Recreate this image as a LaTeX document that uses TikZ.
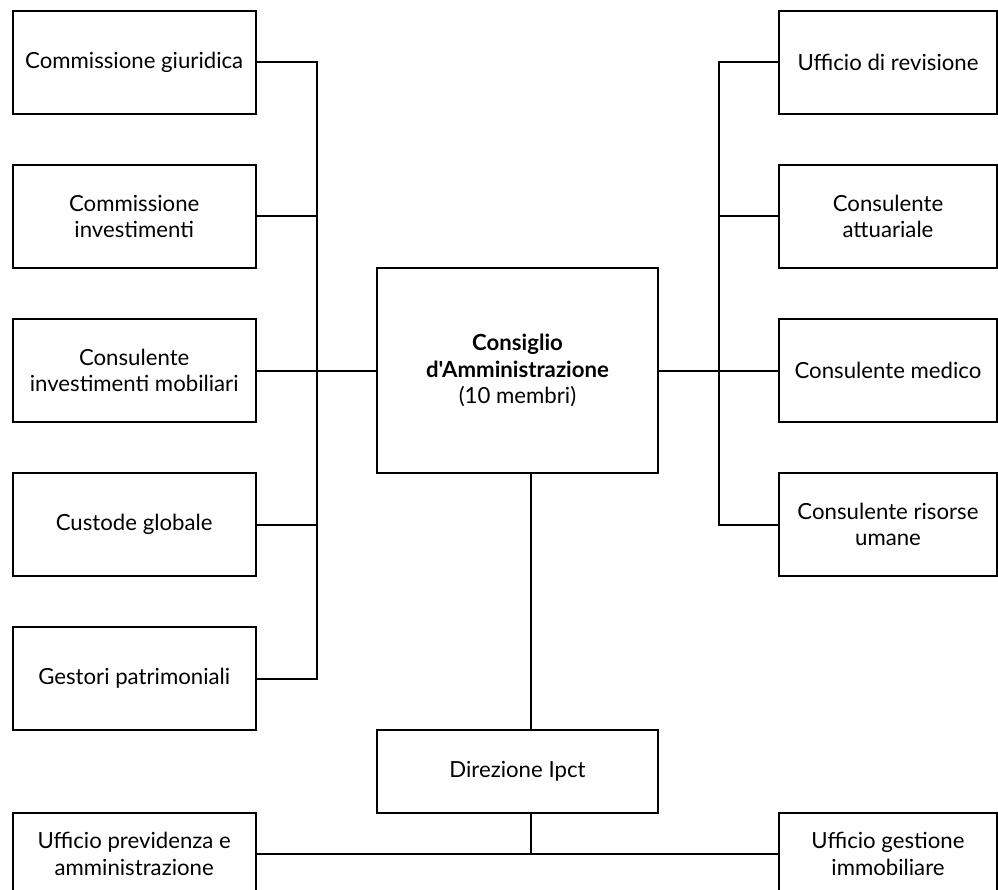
\documentclass[tikz,border=0pt]{standalone}
\usepackage{fontspec}
\setmainfont{Lato}[Ligatures=TeXOff]
\tikzset{
  ufficio/.style={draw, line width=2pt, align=center, inner sep=0pt,
    minimum width=243pt, minimum height=103pt, font=\fontsize{22.2}{26.5}\selectfont},
  ufficiodx/.style={ufficio, minimum width=217.4pt},
  linea/.style={line width=2pt}
}
\begin{document}
\begin{tikzpicture}[x=1pt,y=-1pt]
                  \useasboundingbox (0,0) rectangle (998,890);
                  \clip (0,0) rectangle (998,890);
                  % colonna sinistra
                  \node[ufficio] (giuridica) at (134.2,62.5) {Commissione giuridica};
                  \node[ufficio] (investimenti) at (134.2,216.5) {Commissione\\investimenti};
                  \node[ufficio] (mobiliari) at (134.2,370.5) {Consulente\\investimenti mobiliari};
                  \node[ufficio] (custode) at (134.2,524.5) {Custode globale};
                  \node[ufficio] (gestori) at (134.2,678.5) {Gestori patrimoniali};
                  % colonna destra
                  \node[ufficiodx] (revisione) at (888,62.5) {Ufficio di revisione};
                  \node[ufficiodx] (attuariale) at (888,216.5) {Consulente\\attuariale};
                  \node[ufficiodx] (medico) at (888,370.5) {Consulente medico};
                  \node[ufficiodx] (risorse) at (888,524.5) {Consulente risorse\\umane};
                  % centro
                  \node[ufficio, minimum width=280.4pt, minimum height=204.4pt] (cda) at (517.5,370.5)
                    {\textbf{Consiglio}\\\textbf{d'Amministrazione}\\(10 membri)};
                  \node[ufficio, minimum width=280.4pt, minimum height=82.7pt] (direzione) at (517.5,771.3) {Direzione Ipct};
                  \node[ufficio, minimum height=82.7pt] (previdenza) at (134.2,854) {Ufficio previdenza e\\amministrazione};
                  \node[ufficiodx, minimum height=82.7pt] (immobiliare) at (888,854) {Ufficio gestione\\immobiliare};
                  \coordinate (sx) at (316.7,0);
                  \coordinate (dx) at (719.3,0);
                  \coordinate (asse) at (531,0);
                  % collegamenti
                  \draw[linea] (giuridica.east) -- (giuridica.east -| sx) -- (gestori.east -| sx) -- (gestori.east);
                  \draw[linea] (investimenti.east) -- (investimenti.east -| sx);
                  \draw[linea] (mobiliari.east) -- (cda.west);
                  \draw[linea] (custode.east) -- (custode.east -| sx);
                  \draw[linea] (revisione.west) -- (revisione.west -| dx) -- (risorse.west -| dx) -- (risorse.west);
                  \draw[linea] (attuariale.west) -- (attuariale.west -| dx);
                  \draw[linea] (cda.east) -- (medico.west);
                  \draw[linea] (cda.south -| asse) -- (direzione.north -| asse);
                  \draw[linea] (direzione.south -| asse) -- (previdenza.east -| asse);
                  \draw[linea] (previdenza.east) -- (immobiliare.west);
              \end{tikzpicture}
\end{document}
